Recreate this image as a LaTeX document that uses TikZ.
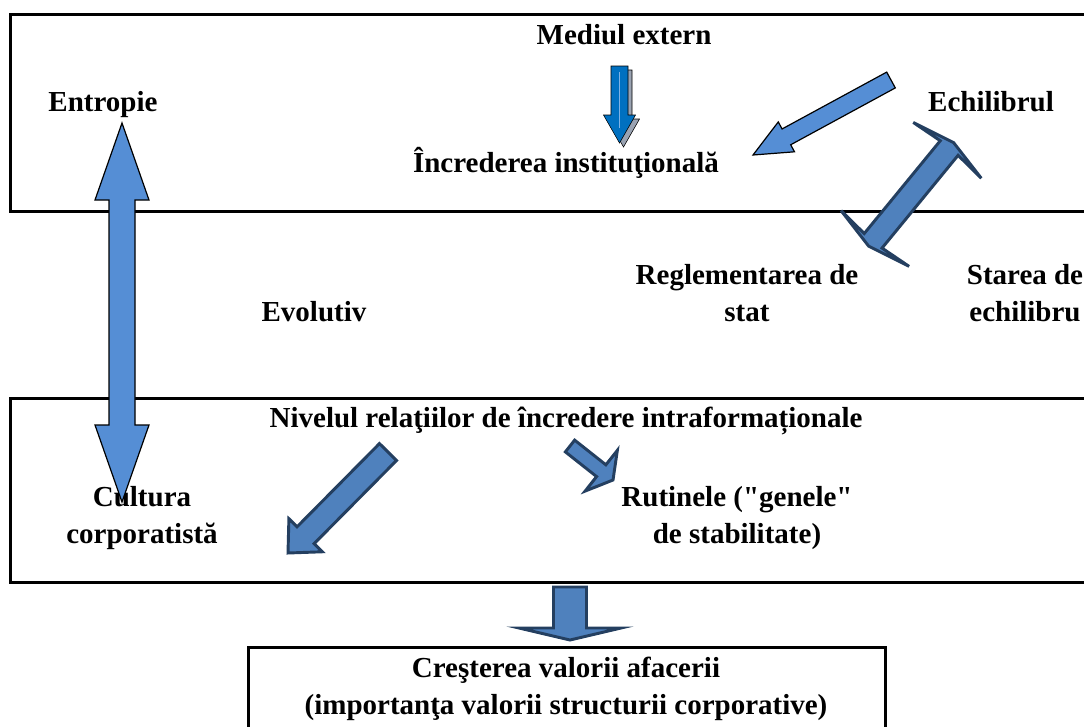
\documentclass[tikz,border=0pt]{standalone}
\usepackage{fontspec}
\setmainfont{Liberation Serif}
\newfontfamily\plainserif{Liberation Serif}
\usetikzlibrary{calc}
\definecolor{lb}{HTML}{558ED5}
\definecolor{mb}{HTML}{4F81BD}
\definecolor{db}{HTML}{243F60}
\definecolor{ab}{HTML}{0070C0}
\definecolor{shd}{HTML}{9AA3B2}
\definecolor{il}{HTML}{7FB2E5}
% block arrow: style, tail, tip, w, h, L, J (px)
\newcommand\blkarrow[7]{%
  \coordinate (ba) at ($(#3)!#6*0.75pt!(#2)$);
  \coordinate (bj) at ($(#3)!#7*0.75pt!(#2)$);
  \draw[#1] ($(#2)!#4*0.75pt!90:(#3)$) -- ($(bj)!#4*0.75pt!90:(#3)$) -- ($(ba)!#5*0.75pt!90:(#3)$) -- (#3) -- ($(ba)!#5*0.75pt!-90:(#3)$) -- ($(bj)!#4*0.75pt!-90:(#3)$) -- ($(#2)!#4*0.75pt!-90:(#3)$) -- cycle;}
% double block arrow: style, P1, P2, w, h, L, J (px)
\newcommand\dblarrow[7]{%
  \coordinate (ba1) at ($(#2)!#6*0.75pt!(#3)$);
  \coordinate (bj1) at ($(#2)!#7*0.75pt!(#3)$);
  \coordinate (ba2) at ($(#3)!#6*0.75pt!(#2)$);
  \coordinate (bj2) at ($(#3)!#7*0.75pt!(#2)$);
  \draw[#1] (#2) -- ($(ba1)!#5*0.75pt!90:(#2)$) -- ($(bj1)!#4*0.75pt!90:(#2)$) -- ($(bj2)!#4*0.75pt!-90:(#3)$) -- ($(ba2)!#5*0.75pt!-90:(#3)$) -- (#3) -- ($(ba2)!#5*0.75pt!90:(#3)$) -- ($(bj2)!#4*0.75pt!90:(#3)$) -- ($(bj1)!#4*0.75pt!-90:(#2)$) -- ($(ba1)!#5*0.75pt!-90:(#2)$) -- cycle;}
\newcommand\sq{{\plainserif\bfseries"}}
\begin{document}
\begin{tikzpicture}[x=0.75pt,y=-0.75pt,
  lbl/.style={font=\bfseries\fontsize{21.75}{27.75}\selectfont, align=center, inner sep=0pt, anchor=base},
  frame/.style={draw=black, line width=2.25pt},
  lightarr/.style={fill=lb, draw=black, line width=0.9pt},
  darkarr/.style={fill=mb, draw=db, line width=2.2pt},
  bluearr/.style={fill=ab},
  shadowarr/.style={fill=shd}]
\useasboundingbox (0,0) rectangle (1084,726);
\clip (0,0) rectangle (1084,726);
\fill[white] (0,0) rectangle (1084,726);

% frames
\draw[frame] (10.5,14.5) rectangle (1110,211.5);
\draw[frame] (10.5,398) rectangle (1110,582);
\draw[frame] (248,647) rectangle (885,760);

% labels (multi-line labels: base = last line)
\node[lbl] (mediu) at (624,44) {Mediul extern};
\node[lbl] (entr) at (103,111) {Entropie};
\node[lbl] (echil) at (991,111) {Echilibrul};
\node[lbl] (incr) at (566,172) {Încrederea instituţională};
\node[lbl] (regl) at (747,321) {Reglementarea de\\stat};
\node[lbl] (evol) at (314,321) {Evolutiv};
\node[lbl] (stare) at (1025,321) {Starea de\\echilibru};
\node[lbl] (nivel) at (566,427) {Nivelul relaţiilor de încredere intraformaționale};
\node[lbl] (cult) at (142,543) {Cultura\\corporatistă};
\node[lbl] (rut) at (737,543) {Rutinele (\sq genele\sq\\de stabilitate)};
\node[lbl] (cres) at (566,714) {Creşterea valorii afacerii\\(importanţa valorii structurii corporative)};

% arrow end points
\coordinate (a1t) at (619.5,66);   \coordinate (a1h) at (619.5,143);
\coordinate (a1st) at (623.5,70);  \coordinate (a1sh) at (623.5,147);
\coordinate (a2t) at (891,80);     \coordinate (a2h) at (753,155);
\coordinate (a3a) at (953.6,142.6); \coordinate (a3b) at (868.7,246.2);
\coordinate (a4a) at (122,123);    \coordinate (a4b) at (122,502);
\coordinate (a5t) at (388,452);    \coordinate (a5h) at (288,553);
\coordinate (a6t) at (570,446);    \coordinate (a6h) at (613,480);
\coordinate (a7t) at (570,587);    \coordinate (a7h) at (570,640);
\coordinate (a1lt) at (619.5,72);  \coordinate (a1lh) at (619.5,128);

% Mediul extern -> Increderea
\blkarrow{shadowarr}{a1st}{a1sh}{8.5}{16}{28}{28}
\blkarrow{bluearr}{a1t}{a1h}{8.5}{16}{28}{28}
\draw[il, line width=0.6pt] (a1lt) -- (a1lh);
% Echilibrul -> Increderea
\blkarrow{lightarr}{a2t}{a2h}{9}{17}{38}{38}
% Echilibrul <-> Reglementarea
\dblarrow{darkarr}{a3a}{a3b}{11.5}{44}{10}{7}
% Entropie <-> Cultura
\dblarrow{lightarr}{a4a}{a4b}{13}{27}{77}{77}
% Nivelul -> Cultura
\blkarrow{darkarr}{a5t}{a5h}{12}{23.5}{25}{25}
% Nivelul -> Rutinele
\blkarrow{darkarr}{a6t}{a6h}{7.5}{26}{15}{15}
% down to final box
\blkarrow{darkarr}{a7t}{a7h}{16.5}{51}{12}{12}
\end{tikzpicture}
\end{document}
